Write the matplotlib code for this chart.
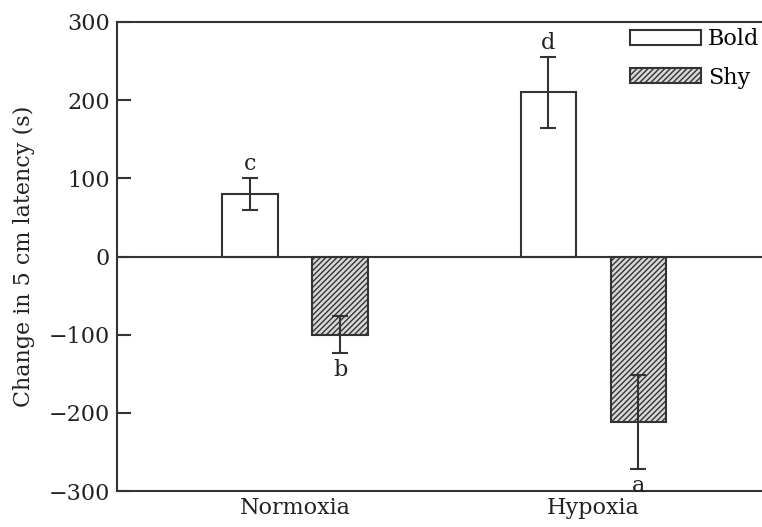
import matplotlib
matplotlib.use("Agg")
import matplotlib.pyplot as plt
import numpy as np

# values
conditions = ["Normoxia", "Hypoxia"]
bold_mean = [80, 210]
bold_err = [21, 45]
shy_mean = [-100, -212]
shy_err = [24, 60]
bold_letters = ["c", "d"]
shy_letters = ["b", "a"]

plt.rcParams["font.family"] = "DejaVu Serif"
plt.rcParams["hatch.linewidth"] = 1.0
plt.rcParams["hatch.color"] = "#444444"
dark = "#333333"
txt = "#222222"
fs = 16

fig = plt.figure(figsize=(7.62, 5.27), dpi=100)
ax = fig.add_axes([117 / 762, 36 / 527, 655 / 762, 469 / 527])

x = np.arange(len(conditions))
off = 0.151
w = 0.185
ekw = dict(ecolor=dark, elinewidth=1.5, capsize=6, capthick=1.5)

ax.bar(x - off, bold_mean, w, color="white", edgecolor=dark, linewidth=1.5,
       yerr=bold_err, error_kw=ekw, label="Bold", zorder=2)
ax.bar(x + off, shy_mean, w, color="#d8d8d8", edgecolor=dark, linewidth=1.5, hatch="//////",
       yerr=shy_err, error_kw=ekw, label="Shy", zorder=2)

for i in range(len(conditions)):
    ax.annotate(bold_letters[i], (x[i] - off, bold_mean[i] + bold_err[i]),
                xytext=(0, 2), textcoords="offset points", ha="center", va="bottom",
                fontsize=fs, color=txt)
    ax.annotate(shy_letters[i], (x[i] + off, shy_mean[i] - shy_err[i]),
                xytext=(0, -4), textcoords="offset points", ha="center", va="top",
                fontsize=fs, color=txt)

ax.axhline(0, color=dark, linewidth=1.5, zorder=3)

ax.set_xlim(-0.597, 1.6)
ax.set_ylim(-300, 300)
ax.set_yticks(range(-300, 301, 100))
ax.set_yticklabels(["\u2212300", "\u2212200", "\u2212100", "0", "100", "200", "300"])
ax.set_xticks(x)
ax.set_xticklabels(conditions)
ax.tick_params(axis="x", length=0, pad=4, labelsize=fs, colors=txt)
ax.tick_params(axis="y", direction="in", length=10, width=1.5, color=dark,
               labelsize=fs, labelcolor=txt, pad=5)
ax.set_ylabel("Change in 5 cm latency (s)", fontsize=fs, color=txt, labelpad=10)

for s in ax.spines.values():
    s.set_color(dark)
    s.set_linewidth(1.5)
ax.spines["right"].set_visible(False)

ax.legend(loc="upper left", bbox_to_anchor=(630 / 762, 1 - 28 / 527),
          bbox_transform=fig.transFigure, frameon=False,
          fontsize=fs, handlelength=3.2, handleheight=0.65, handletextpad=0.3,
          labelspacing=0.75, borderpad=0, borderaxespad=0)

fig.savefig("out.png", dpi=100)
